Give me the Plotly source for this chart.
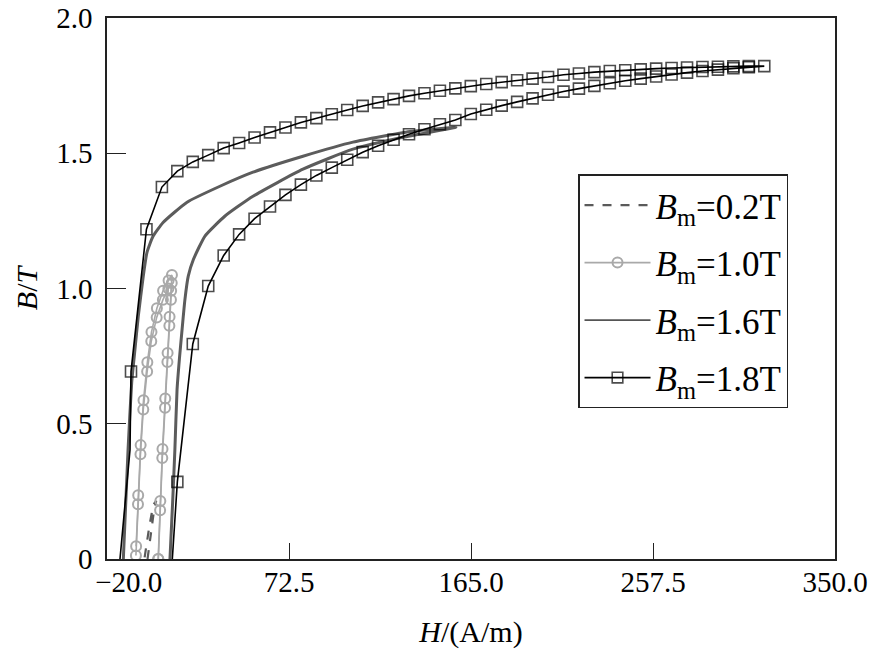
import plotly.graph_objects as go

# ---------------- data ----------------
# Bm = 1.8 T loop (squares): ascending branch then descending branch
H_18_up = [13.2, 15.75, 23.6, 31.45, 39.3, 47.15, 55.0, 62.85, 70.7, 78.55, 86.4, 94.25,
           102.1, 109.95, 117.8, 125.65, 133.5, 141.35, 149.2, 157.05, 164.9, 172.75,
           180.6, 188.45, 196.3, 204.15, 212.0, 219.85, 227.7, 235.55, 243.4, 251.25,
           259.1, 266.95, 274.8, 282.65, 290.5, 298.35, 306.2, 314.05]
B_18_up = [0.0, 0.285, 0.795, 1.009, 1.122, 1.200, 1.258, 1.303, 1.346, 1.384, 1.418, 1.447,
           1.476, 1.504, 1.528, 1.550, 1.570, 1.589, 1.607, 1.623, 1.645, 1.661,
           1.676, 1.690, 1.703, 1.716, 1.728, 1.739, 1.749, 1.759, 1.768, 1.776,
           1.784, 1.791, 1.798, 1.804, 1.809, 1.814, 1.818, 1.822]
H_18_down = [306.2, 298.35, 290.5, 282.65, 274.8, 266.95, 259.1, 251.25, 243.4, 235.55,
             227.7, 219.85, 212.0, 204.15, 196.3, 188.45, 180.6, 172.75, 164.9, 157.05,
             149.2, 141.35, 133.5, 125.65, 117.8, 109.95, 102.1, 94.25, 86.4, 78.55,
             70.7, 62.85, 55.0, 47.15, 39.3, 31.45, 23.6, 15.75, 7.9, 0.05, -7.8, -8.3, -13.4]
B_18_down = [1.822, 1.821, 1.820, 1.819, 1.817, 1.815, 1.813, 1.810, 1.807, 1.804,
             1.800, 1.795, 1.790, 1.782, 1.776, 1.770, 1.763, 1.756, 1.748, 1.740,
             1.731, 1.722, 1.712, 1.700, 1.688, 1.675, 1.660, 1.644, 1.630, 1.614,
             1.595, 1.577, 1.558, 1.538, 1.519, 1.493, 1.468, 1.434, 1.375, 1.219, 0.693, 0.404, 0.0]

# Bm = 1.6 T loop (dark grey solid)
H_16_up = [12.0, 13.3, 14.5, 15.6, 16.8, 18.0, 19.6, 21.3, 23.9, 29.8, 40.0, 54.2,
           79.6, 105.0, 130.4, 157.3]
B_16_up = [0.0, 0.2, 0.404, 0.626, 0.74, 0.836, 0.959, 1.046, 1.107, 1.194, 1.268, 1.341,
           1.441, 1.515, 1.559, 1.596]
H_16_down = [134.0, 105.0, 79.6, 54.2, 37.4, 20.7, 8.5, 3.4, 0.3, -1.56, -4.1, -5.8,
             -7.45, -9.3, -11.7]
B_16_down = [1.58, 1.541, 1.489, 1.430, 1.378, 1.319, 1.244, 1.193, 1.133, 1.046, 0.897, 0.774,
             0.652, 0.404, 0.0]

# Bm = 1.0 T loop (light grey, circles) - two overlapping cycles
H_10_a = [6.1, 7.0, 8.1, 9.5, 10.7, 11.7, 12.5, 12.9, 11.2, 8.4, 5.25, 2.5, 0.4, -1.56, -3.0, -4.25, -5.3]
B_10_a = [0.0, 0.18, 0.373, 0.559, 0.728, 0.862, 0.958, 1.02, 1.0, 0.958, 0.893, 0.805, 0.693, 0.553, 0.387, 0.202, 0.013]
H_10_b = [6.0, 7.1, 8.2, 9.6, 10.8, 11.8, 12.6, 13.0, 11.3, 8.5, 5.35, 2.6, 0.5, -1.45, -2.9, -4.15, -5.2]
B_10_b = [0.0, 0.214, 0.407, 0.593, 0.762, 0.896, 0.992, 1.05, 1.03, 0.992, 0.927, 0.839, 0.727, 0.587, 0.421, 0.236, 0.047]

# Bm = 0.2 T loop (dashed)
H_02 = [0.6, 2.3, 3.9, 5.0, 3.5, 1.5, -0.2, -1.0]
B_02 = [0.0, 0.10, 0.18, 0.215, 0.20, 0.12, 0.04, 0.0]

x_ticks = [-20.0, 72.5, 165.0, 257.5, 350.0]
x_ticktext = ["\u2002\u2002\u2002\u221220.0", "72.5", "165.0", "257.5", "350.0"]
y_ticks = [0, 0.5, 1.0, 1.5, 2.0]
y_ticktext = ["0", "0.5", "1.0", "1.5", "2.0"]

names = ["<i>B</i><sub>m</sub>=0.2T", "<i>B</i><sub>m</sub>=1.0T",
         "<i>B</i><sub>m</sub>=1.6T", "<i>B</i><sub>m</sub>=1.8T"]

# ---------------- figure ----------------
FONT = "Liberation Serif, Times New Roman, serif"
fig = go.Figure()

fig.add_trace(go.Scatter(x=H_02, y=B_02, mode="lines", name=names[0], legendgroup="g0",
                         line=dict(color="#5a5a5a", width=2.2, dash="dash")))

circ = dict(symbol="circle-open", size=10, color="#a9a9a9", line=dict(width=2, color="#a9a9a9"))
fig.add_trace(go.Scatter(x=H_10_a, y=B_10_a, mode="lines+markers", name=names[1], legendgroup="g1",
                         line=dict(color="#a9a9a9", width=1.6), marker=circ))
fig.add_trace(go.Scatter(x=H_10_b, y=B_10_b, mode="lines+markers", name=names[1], legendgroup="g1",
                         showlegend=False, line=dict(color="#a9a9a9", width=1.6), marker=circ))

# thick measured loop; legend entry shown with a thinner line
fig.add_trace(go.Scatter(x=H_16_up + H_16_down, y=B_16_up + B_16_down, mode="lines",
                         name=names[2], legendgroup="g2", showlegend=False,
                         line=dict(color="#5c5c5c", width=3, shape="spline", smoothing=0.5)))
fig.add_trace(go.Scatter(x=[None], y=[None], mode="lines", name=names[2], legendgroup="g2",
                         line=dict(color="#555555", width=1.8)))

H18 = H_18_up + H_18_down
B18 = B_18_up + B_18_down
sizes = [11] * len(H18)
sizes[0] = 0
sizes[-1] = 0
sizes[-2] = 0
fig.add_trace(go.Scatter(x=H18, y=B18, mode="lines+markers", name=names[3], legendgroup="g3",
                         line=dict(color="black", width=1.6),
                         marker=dict(symbol="square-open", size=sizes, color="black",
                                     line=dict(width=1.6, color="black"))))

axis_common = dict(showline=True, linecolor="#222", linewidth=1.5, mirror=True,
                   showgrid=False, zeroline=False, ticks="inside", tickcolor="#222",
                   tickwidth=1.2, automargin=False, ticklabeloverflow="allow",
                   tickfont=dict(family=FONT, size=29, color="black"))

fig.update_layout(
    width=869, height=662,
    margin=dict(l=107, r=34, t=18, b=103, autoexpand=False),
    paper_bgcolor="white", plot_bgcolor="white",
    font=dict(family=FONT, size=29, color="black"),
    xaxis=dict(range=[-20, 350], tickvals=x_ticks, ticktext=x_ticktext, ticklen=16,
               ticklabelstandoff=-4,
               title=dict(text="<i>H</i>/(A/m)", font=dict(family=FONT, size=30), standoff=24),
               **axis_common),
    yaxis=dict(range=[0, 2], tickvals=y_ticks, ticktext=y_ticktext, ticklen=19,
               ticklabelstandoff=7,
               title=dict(text="<i>B</i>/<i>T</i>", font=dict(family=FONT, size=30), standoff=10),
               **axis_common),
    legend=dict(x=0.647, y=0.711, xanchor="left", yanchor="top",
                bgcolor="white", bordercolor="#222", borderwidth=1.5,
                font=dict(family=FONT, size=35, color="black"),
                tracegroupgap=9, itemwidth=66),
    showlegend=True,
)

# remove the default 8px page margin so the 869x662 figure fills the window exactly
fig.write_html("out.html", config={"displayModeBar": False},
               post_script="document.body.style.margin='0';document.body.style.overflow='hidden';")
